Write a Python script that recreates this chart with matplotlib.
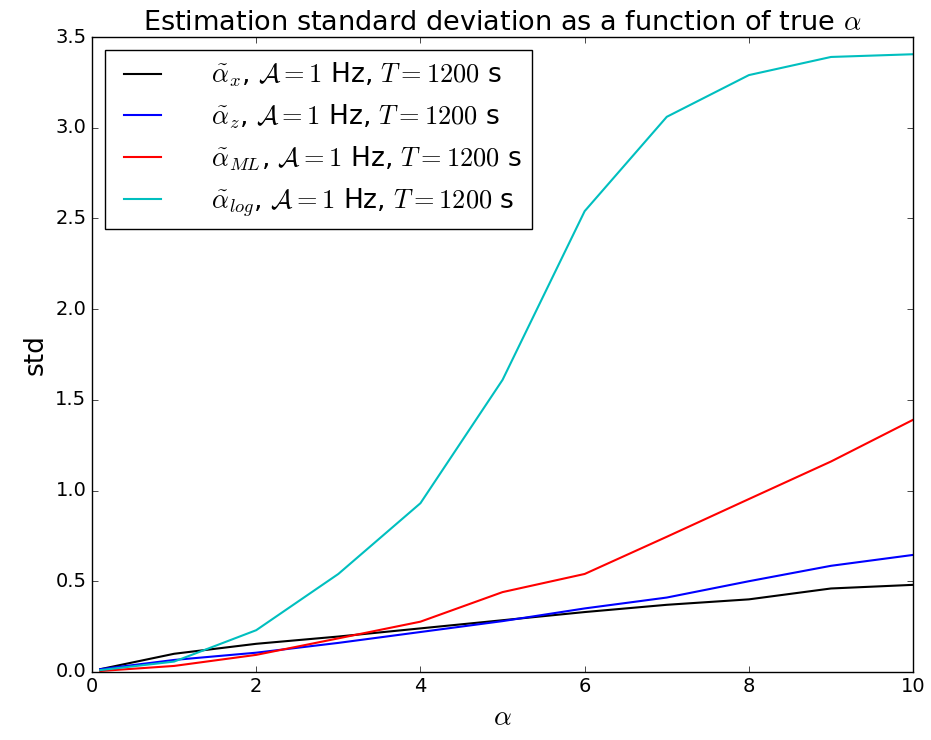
import numpy as np
import matplotlib
matplotlib.use("Agg")
import matplotlib.pyplot as plt

plt.style.use("classic")

# true alpha values
alpha = [0.1, 1, 2, 3, 4, 5, 6, 7, 8, 9, 10]

# estimated std for each estimator
std_x = [0.015, 0.10, 0.155, 0.195, 0.24, 0.285, 0.33, 0.37, 0.40, 0.46, 0.48]
std_z = [0.015, 0.066, 0.106, 0.16, 0.22, 0.28, 0.35, 0.41, 0.50, 0.585, 0.645]
std_ml = [0.005, 0.033, 0.094, 0.185, 0.277, 0.44, 0.54, 0.745, 0.953, 1.16, 1.39]
std_log = [0.01, 0.057, 0.23, 0.54, 0.93, 1.61, 2.54, 3.06, 3.29, 3.39, 3.405]

fig = plt.figure(figsize=(9.31, 7.4), dpi=100)
ax = fig.add_axes([0.0988, 0.092, 0.882, 0.858])

lbl = r", $\mathcal{A} = 1$ Hz, $T = 1200$ s"
ax.plot(alpha, std_x, c="k", lw=1.5, label=r"$\tilde{\alpha}_x$" + lbl)
ax.plot(alpha, std_z, c="b", lw=1.5, label=r"$\tilde{\alpha}_z$" + lbl)
ax.plot(alpha, std_ml, c="r", lw=1.5, label=r"$\tilde{\alpha}_{ML}$" + lbl)
ax.plot(alpha, std_log, c="c", lw=1.5, label=r"$\tilde{\alpha}_{log}$" + lbl)

ax.set_xlim(0, 10)
ax.set_ylim(0, 3.5)
ax.set_title(r"Estimation standard deviation as a function of true $\alpha$", fontsize=19.5)
ax.set_xlabel(r"$\alpha$", fontsize=20)
ax.set_ylabel("std", fontsize=19)
ax.tick_params(labelsize=14)
ax.legend(loc="upper left", fontsize=19, handletextpad=1.6, labelspacing=0.5)

fig.savefig("out.png", dpi=100)
